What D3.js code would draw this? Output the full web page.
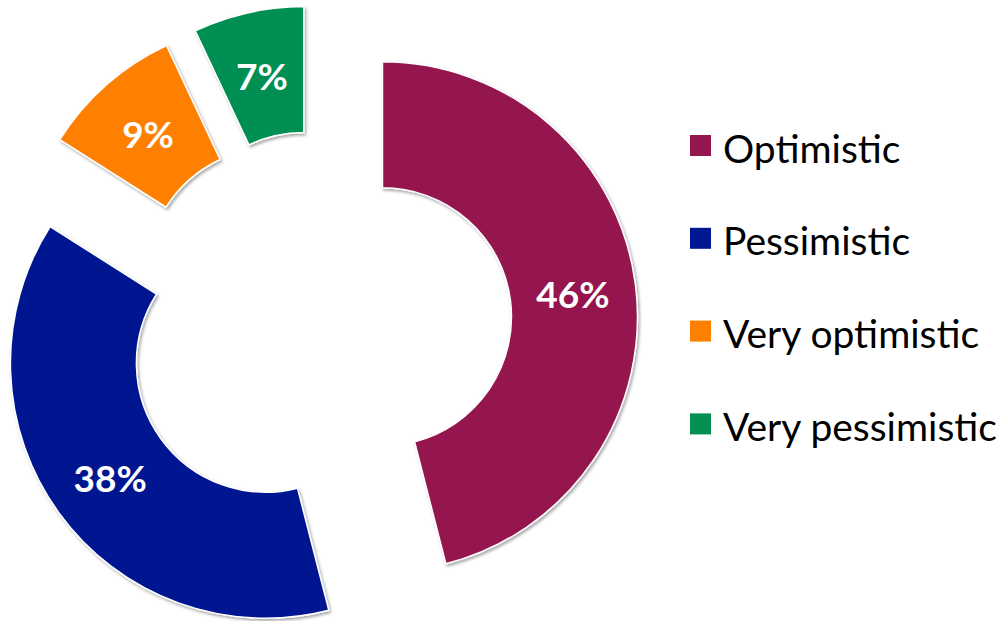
<!DOCTYPE html>
<html>
<head>
<meta charset="utf-8">
<script src="https://cdn.jsdelivr.net/npm/d3@7"></script>
<style>
  html, body { margin: 0; padding: 0; background: #fff; }
  svg { display: block; }
</style>
</head>
<body>
<svg id="chart" width="1005" height="621"></svg>
<script>
// Survey outlook shares (%), in drawing order clockwise from 12 o'clock
const categories = ["Optimistic", "Pessimistic", "Very optimistic", "Very pessimistic"];
const shares = [46, 38, 9, 7];
const colors = ["#95174f", "#001891", "#ff7f00", "#038f52"];

const W = 1005, H = 621;
const svg = d3.select("#chart");

// soft drop shadow under each segment
const defs = svg.append("defs");
const f = defs.append("filter").attr("id", "shadow")
  .attr("x", "-20%").attr("y", "-20%").attr("width", "140%").attr("height", "140%");
f.append("feDropShadow").attr("dx", 1.5).attr("dy", 2).attr("stdDeviation", 1.6)
  .attr("flood-color", "#000").attr("flood-opacity", 0.35);

const cx = 318, cy = 325;
const outerR = 255, innerR = 129;
const explode = 65;

const pie = d3.pie().sort(null).value(d => d.value).startAngle(0).endAngle(2 * Math.PI);
const arc = d3.arc().innerRadius(innerR).outerRadius(outerR);

const data = categories.map((c, i) => ({ name: c, value: shares[i], color: colors[i] }));
const arcs = pie(data);

const g = svg.append("g").attr("transform", `translate(${cx},${cy})`);

const seg = g.selectAll("g.seg").data(arcs).join("g")
  .attr("class", "seg")
  .attr("transform", d => {
    const mid = (d.startAngle + d.endAngle) / 2;
    return `translate(${explode * Math.sin(mid)},${-explode * Math.cos(mid)})`;
  });

seg.append("path")
  .attr("d", arc)
  .attr("fill", d => d.data.color)
  .attr("stroke", "#ffffff")
  .attr("stroke-width", 1.5)
  .attr("filter", "url(#shadow)");

seg.append("text")
  .attr("transform", d => `translate(${arc.centroid(d)})`)
  .attr("text-anchor", "middle")
  .attr("dy", "0.42em")
  .attr("fill", "#ffffff")
  .style("font-family", "Lato, 'Open Sans', sans-serif")
  .style("font-weight", "700")
  .style("font-size", "37px")
  .text(d => d3.format(".0f")(d.data.value) + "%");

// legend
const legend = svg.append("g").attr("transform", "translate(690,135)");
const item = legend.selectAll("g").data(data).join("g")
  .attr("transform", (d, i) => `translate(0,${i * 92.8})`);
item.append("rect")
  .attr("width", 21).attr("height", 21)
  .attr("fill", d => d.color);
item.append("text")
  .attr("x", 33).attr("y", 27.5)
  .attr("fill", "#000")
  .style("font-family", "Lato, 'Open Sans', sans-serif")
  .style("font-size", "39px")
  .text(d => d.name);
</script>
</body>
</html>
